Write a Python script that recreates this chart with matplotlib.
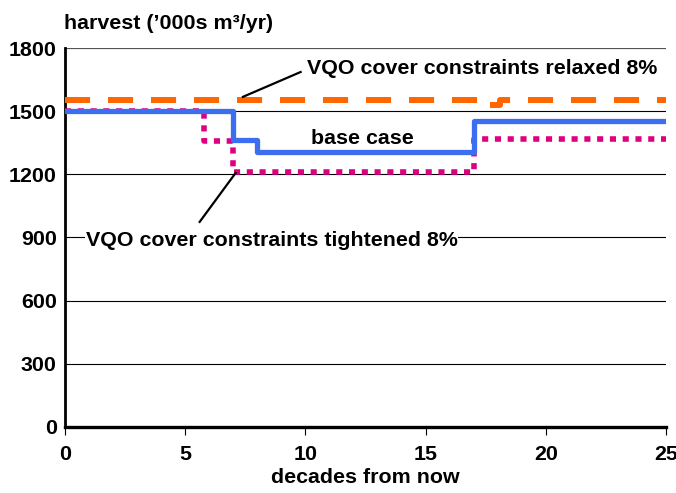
import numpy as np
import matplotlib.pyplot as plt

plt.rcParams['font.family'] = ['Liberation Sans', 'DejaVu Sans']
plt.rcParams['font.weight'] = 'bold'

# step series: x = change points (decades), y = harvest level ('000s m3/yr)
base_x = [0, 7, 8, 17, 25]
base_y = [1500, 1362, 1306, 1455, 1455]

tight_x = [0, 5.8, 7, 17, 25]
tight_y = [1500, 1360, 1210, 1370, 1370]

relax_x = [0, 17.4, 18.1, 25]
relax_y = [1555, 1528, 1555, 1555]

y_ticks = [0, 300, 600, 900, 1200, 1500, 1800]
x_ticks = [0, 5, 10, 15, 20, 25]

fs = 15.4

fig = plt.figure(figsize=(6.76, 4.93), dpi=100)
ax = fig.add_axes([0.0962, 0.134, 0.889, 0.7686])

for v in y_ticks[1:-1]:
    ax.axhline(v, color='black', lw=0.8, zorder=1)
ax.axhline(1800, color='#555555', lw=1.6, zorder=1)

ax.step(tight_x, tight_y, where='post', color='#dd0080', lw=4.0,
        linestyle=(0, (1.1, 1.2)), dash_capstyle='butt', zorder=3)
ax.step(base_x, base_y, where='post', color='#3c6ef0', lw=3.8, zorder=4)
ax.step(relax_x, relax_y, where='post', color='#ff6600', lw=4.3,
        linestyle=(0, (4.2, 3)), dash_capstyle='butt', zorder=5)

ax.set_xlim(0, 25)
ax.set_ylim(0, 1800)
ax.set_xticks(x_ticks)
ax.set_yticks(y_ticks)
ax.tick_params(axis='x', length=6, width=0.8, labelsize=fs, pad=7)
ax.tick_params(axis='y', length=0, labelsize=fs, pad=6)

for s in ['top', 'right']:
    ax.spines[s].set_visible(False)
ax.spines['left'].set_linewidth(2)
ax.spines['bottom'].set_linewidth(2.4)

ax.set_xlabel('decades from now', fontsize=fs, fontweight='bold', labelpad=3)
fig.text(0.095, 0.953, "harvest (\u2019000s m\u00b3/yr)", fontsize=fs,
         fontweight='bold', ha='left', va='center')

ax.text(12.35, 1368, 'base case', fontsize=fs, ha='center', va='center', zorder=6)

ax.plot([7.4, 9.8], [1568, 1686], color='black', lw=1.6, zorder=6)
ax.text(10.05, 1705, 'VQO cover constraints relaxed 8%', fontsize=fs,
        ha='left', va='center', zorder=6)

ax.plot([5.6, 7.1], [974, 1207], color='black', lw=1.6, zorder=6)
ax.text(0.87, 884, 'VQO cover constraints tightened 8%', fontsize=fs,
        ha='left', va='center', zorder=6,
        bbox=dict(facecolor='white', edgecolor='none', pad=0.5))

fig.savefig('out.png', dpi=100)
